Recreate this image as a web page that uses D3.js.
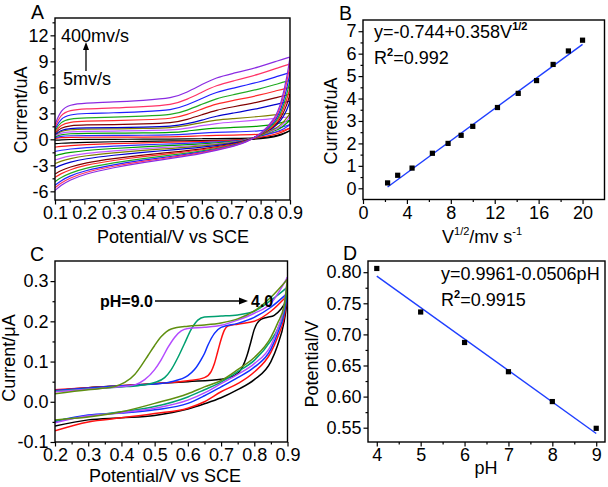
<!DOCTYPE html>
<html><head><meta charset="utf-8">
<script src="https://cdn.jsdelivr.net/npm/d3@7"></script>
<style>
body{margin:0;background:#fff}
svg{display:block}
text{font-family:"Liberation Sans",Arial,Helvetica,sans-serif;fill:#000}
</style>
</head><body><svg id="c" width="608" height="487"></svg>
<script>
// ---------------- DATA ----------------
// Panel A: cyclic voltammograms at 13 scan rates (mV/s)
const scanRates = [5,10,20,40,60,80,100,150,200,250,300,350,400];
const cvColors = ["#000000","#ff1a1a","#2b2bff","#00a000","#c257ff","#808000","#0000cc","#800000","#ff2a2a","#22aa22","#1f1fff","#ff3366","#8a2be2"];
const cvUpperE = [0.1,0.12,0.15,0.2,0.3,0.4,0.5,0.55,0.6,0.65,0.7,0.8,0.86,0.9];
const cvUpper = [
  [-0.1,-0.05,-0.02,0.0,0.0,0.02,0.03,0.05,0.07,0.09,0.1,0.15,0.4,1.0],
  [0.1,0.2,0.23,0.24,0.25,0.26,0.28,0.34,0.42,0.46,0.48,0.55,0.8,1.3],
  [0.2,0.36,0.42,0.44,0.45,0.47,0.5,0.6,0.72,0.8,0.84,0.95,1.25,1.7],
  [0.3,0.56,0.65,0.69,0.7,0.74,0.77,0.95,1.17,1.3,1.36,1.5,1.8,2.2],
  [0.4,0.76,0.88,0.93,0.95,1.0,1.05,1.28,1.58,1.84,1.98,2.24,2.47,2.6],
  [0.5,0.96,1.12,1.18,1.2,1.26,1.32,1.59,1.94,2.24,2.37,2.64,2.87,3.0],
  [0.55,1.08,1.26,1.32,1.35,1.42,1.49,1.8,2.21,2.69,2.99,3.6,4.1,4.4],
  [0.7,1.36,1.58,1.67,1.7,1.78,1.87,2.29,2.83,3.39,3.71,4.35,4.88,5.2],
  [0.85,1.7,2.0,2.1,2.15,2.26,2.37,2.86,3.49,4.1,4.44,5.11,5.67,6.0],
  [1.0,2.05,2.37,2.5,2.55,2.68,2.81,3.35,4.05,4.73,5.09,5.82,6.43,6.8],
  [1.2,2.45,2.85,3.0,3.05,3.2,3.36,3.96,4.72,5.46,5.85,6.64,7.3,7.7],
  [1.4,2.9,3.35,3.53,3.6,3.78,3.96,4.61,5.44,6.24,6.68,7.54,8.27,8.7],
  [1.7,3.4,4.0,4.2,4.3,4.5,4.73,5.43,6.33,7.15,7.56,8.39,9.08,9.5]
];
const cvLowerE = [0.1,0.12,0.15,0.2,0.3,0.4,0.5,0.6,0.7,0.75,0.8,0.85,0.87,0.89,0.9];
const cvLower = [
  [-0.5,-0.45,-0.4,-0.34,-0.28,-0.23,-0.19,-0.14,-0.08,-0.03,0.05,0.3,0.5,0.8,1.0],
  [-0.9,-0.81,-0.72,-0.61,-0.5,-0.41,-0.33,-0.25,-0.14,-0.05,0.25,0.55,0.8,1.1,1.3],
  [-1.4,-1.26,-1.12,-0.95,-0.77,-0.63,-0.52,-0.39,-0.21,-0.08,0.4,0.8,1.05,1.45,1.7],
  [-1.9,-1.71,-1.52,-1.29,-1.05,-0.86,-0.7,-0.53,-0.29,-0.11,0.45,1.0,1.3,1.9,2.2],
  [-2.4,-2.16,-1.92,-1.63,-1.32,-1.08,-0.89,-0.67,-0.36,-0.14,0.5,1.1,1.5,2.2,2.6],
  [-2.8,-2.52,-2.24,-1.9,-1.54,-1.26,-1.04,-0.78,-0.42,-0.17,0.5,1.2,1.7,2.5,3.0],
  [-3.3,-2.97,-2.64,-2.24,-1.82,-1.49,-1.22,-0.92,-0.5,-0.2,0.55,1.4,2.2,3.4,4.4],
  [-4.0,-3.6,-3.2,-2.72,-2.2,-1.8,-1.48,-1.12,-0.6,-0.24,0.55,1.5,2.5,4.0,5.2],
  [-4.4,-3.96,-3.52,-2.99,-2.42,-1.98,-1.63,-1.23,-0.66,-0.26,0.55,1.6,2.8,4.6,6.0],
  [-4.9,-4.41,-3.92,-3.33,-2.7,-2.2,-1.81,-1.37,-0.74,-0.29,0.55,1.8,3.1,5.2,6.8],
  [-5.3,-4.77,-4.24,-3.6,-2.92,-2.39,-1.96,-1.48,-0.8,-0.32,0.55,2.0,3.5,5.9,7.7],
  [-5.6,-5.04,-4.48,-3.81,-3.08,-2.52,-2.07,-1.57,-0.84,-0.34,0.55,2.2,3.9,6.6,8.7],
  [-5.9,-5.31,-4.72,-4.01,-3.25,-2.66,-2.18,-1.65,-0.89,-0.35,0.55,2.4,4.2,7.2,9.5]
];
const aXTicks = [0.1,0.2,0.3,0.4,0.5,0.6,0.7,0.8,0.9];
const aXMinor = [0.15,0.25,0.35,0.45,0.55,0.65,0.75,0.85];
const aYTicks = [-6,-3,0,3,6,9,12];
const aYMinor = [-4.5,-1.5,1.5,4.5,7.5,10.5,13.5];

// Panel B: peak current vs square root of scan rate
const sqrtV = [2.24,3.16,4.47,6.32,7.75,8.94,10.0,12.25,14.14,15.81,17.32,18.71,20.0];
const peakI = [0.24,0.58,0.9,1.56,2.0,2.36,2.76,3.6,4.23,4.8,5.52,6.12,6.6];
const bFitX = [2.24,20.0];
const bFitY = [0.058,6.416];
const bXTicks = [0,4,8,12,16,20];
const bXMinor = [2,6,10,14,18];
const bYTicks = [0,1,2,3,4,5,6,7];
const bYMinor = [0.5,1.5,2.5,3.5,4.5,5.5,6.5];

// Panel C: CVs at different pH
const cLabels = ["4.0","5.0","6.0","7.0","8.0","9.0"];
const cColors = ["#000000","#ff1010","#1030ff","#00a070","#b44cff","#5f8f10"];
const cUpperE = [
  [0.2,0.3,0.4,0.5,0.6,0.7,0.74,0.76,0.78,0.79,0.8,0.82,0.84,0.86,0.88,0.9],
  [0.2,0.3,0.4,0.5,0.6,0.65,0.67,0.68,0.69,0.7,0.71,0.72,0.75,0.8,0.85,0.9],
  [0.2,0.3,0.4,0.5,0.55,0.6,0.62,0.64,0.65,0.66,0.68,0.7,0.75,0.8,0.85,0.9],
  [0.2,0.3,0.4,0.45,0.5,0.53,0.55,0.57,0.59,0.61,0.63,0.65,0.7,0.75,0.8,0.85,0.9],
  [0.2,0.3,0.4,0.44,0.47,0.5,0.52,0.54,0.56,0.58,0.6,0.65,0.7,0.75,0.8,0.85,0.9],
  [0.2,0.3,0.35,0.38,0.41,0.44,0.46,0.48,0.5,0.52,0.55,0.6,0.65,0.7,0.75,0.8,0.85,0.9]
];
const cUpperI = [
  [0.028,0.035,0.04,0.045,0.05,0.056,0.065,0.08,0.12,0.15,0.18,0.205,0.21,0.215,0.23,0.255],
  [0.03,0.035,0.04,0.045,0.052,0.06,0.075,0.095,0.125,0.155,0.178,0.188,0.193,0.2,0.225,0.265],
  [0.028,0.034,0.04,0.044,0.05,0.065,0.08,0.105,0.12,0.14,0.17,0.185,0.195,0.21,0.235,0.27],
  [0.026,0.032,0.037,0.04,0.048,0.06,0.08,0.11,0.145,0.18,0.203,0.211,0.213,0.216,0.225,0.252,0.285],
  [0.025,0.031,0.038,0.042,0.055,0.08,0.105,0.135,0.16,0.176,0.182,0.185,0.19,0.203,0.22,0.245,0.31],
  [0.02,0.03,0.034,0.038,0.048,0.068,0.09,0.115,0.14,0.162,0.181,0.188,0.191,0.196,0.206,0.226,0.26,0.305]
];
const cLowerE = [0.2,0.3,0.4,0.5,0.6,0.65,0.7,0.75,0.8,0.85,0.87,0.89,0.9];
const cLowerI = [
  [-0.06,-0.045,-0.04,-0.034,-0.018,-0.005,0.01,0.03,0.055,0.1,0.14,0.2,0.255],
  [-0.072,-0.05,-0.04,-0.029,-0.016,0.0,0.025,0.045,0.074,0.123,0.16,0.21,0.265],
  [-0.049,-0.033,-0.028,-0.02,-0.004,0.015,0.037,0.06,0.086,0.131,0.17,0.22,0.27],
  [-0.047,-0.036,-0.025,-0.012,0.012,0.03,0.049,0.075,0.103,0.152,0.18,0.23,0.285],
  [-0.052,-0.035,-0.027,-0.016,0.004,0.022,0.045,0.068,0.095,0.14,0.18,0.24,0.31],
  [-0.045,-0.038,-0.025,-0.004,0.02,0.037,0.053,0.08,0.11,0.16,0.195,0.24,0.305]
];
const cXTicks = [0.2,0.3,0.4,0.5,0.6,0.7,0.8,0.9];
const cXMinor = [0.25,0.35,0.45,0.55,0.65,0.75,0.85];
const cYTicks = [-0.1,0.0,0.1,0.2,0.3];
const cYMinor = [-0.05,0.05,0.15,0.25];

// Panel D: potential vs pH
const pHs = [4,5,6,7,8,9];
const potentials = [0.806,0.736,0.687,0.640,0.592,0.549];
const dFitX = [4,9];
const dFitY = [0.7937,0.5407];
const dXTicks = [4,5,6,7,8,9];
const dXMinor = [4.5,5.5,6.5,7.5,8.5];
const dYTicks = [0.55,0.60,0.65,0.70,0.75,0.80];
const dYMinor = [0.575,0.625,0.675,0.725,0.775];

// ---------------- DRAW ----------------
const svg = d3.select("#c");
const FS = 18;

function makeScales(box, xd, yd){
  return {
    x: d3.scaleLinear().domain(xd).range([box.l, box.r]),
    y: d3.scaleLinear().domain(yd).range([box.b, box.t])
  };
}
function drawAxes(box, s, xMaj, xMin, yMaj, yMin, xFmt, yFmt){
  const g = svg.append("g");
  const clean = sel => { sel.select(".domain").remove(); sel.attr("font-size",null).attr("font-family",null); };
  g.append("g").attr("transform",`translate(0,${box.b})`)
    .call(d3.axisBottom(s.x).tickValues(xMin).tickSize(2.5).tickFormat("")).call(clean);
  g.append("g").attr("transform",`translate(0,${box.b})`)
    .call(d3.axisBottom(s.x).tickValues(xMaj).tickSize(4.5).tickPadding(2).tickFormat(xFmt)).call(clean);
  g.append("g").attr("transform",`translate(${box.l},0)`)
    .call(d3.axisLeft(s.y).tickValues(yMin).tickSize(2.5).tickFormat("")).call(clean);
  g.append("g").attr("transform",`translate(${box.l},0)`)
    .call(d3.axisLeft(s.y).tickValues(yMaj).tickSize(4.5).tickPadding(2).tickFormat(yFmt)).call(clean);
  g.selectAll("line").attr("stroke","#000").attr("stroke-width",1.2);
  g.selectAll("text").attr("font-size",FS).attr("fill","#000");
  svg.append("rect").attr("x",box.l).attr("y",box.t).attr("width",box.r-box.l).attr("height",box.b-box.t)
    .attr("fill","none").attr("stroke","#000").attr("stroke-width",1.4);
}
function clip(id, box){
  svg.append("clipPath").attr("id",id).append("rect")
    .attr("x",box.l).attr("y",box.t).attr("width",box.r-box.l).attr("height",box.b-box.t);
  return svg.append("g").attr("clip-path",`url(#${id})`);
}
function txt(x,y,str,opts={}){
  const t = svg.append("text").attr("x",x).attr("y",y).attr("font-size",opts.fs||FS).text(str);
  if(opts.anchor) t.attr("text-anchor",opts.anchor);
  if(opts.bold) t.attr("font-weight","bold");
  return t;
}
function ylabel(x,cy,str,fs){
  return svg.append("text").attr("transform",`translate(${x},${cy}) rotate(-90)`)
    .attr("text-anchor","middle").attr("font-size",fs||FS).text(str);
}
const fmtInt = d => String(d);

// ---- Panel A ----
const boxA = {l:55, r:290, t:18, b:200};
const sA = makeScales(boxA, [0.1,0.9], [-7,14]);
const gA = clip("clipA", boxA);
const lineA = d3.line().x(d=>sA.x(d[0])).y(d=>sA.y(d[1])).curve(d3.curveBasis);
scanRates.forEach((r,i)=>{
  const up = cvUpperE.map((e,k)=>[e, cvUpper[i][k]]);
  const lo = cvLowerE.map((e,k)=>[e, cvLower[i][k]]);
  gA.append("path").attr("d",lineA(up)).attr("fill","none").attr("stroke",cvColors[i]).attr("stroke-width",1.2);
  gA.append("path").attr("d",lineA(lo)).attr("fill","none").attr("stroke",cvColors[i]).attr("stroke-width",1.2);
});
drawAxes(boxA, sA, aXTicks, aXMinor, aYTicks, aYMinor, d=>d.toFixed(1), fmtInt);
txt(31,18.5,"A",{fs:19.5});
txt(61,42,"400mv/s");
txt(63,85,"5mv/s");
svg.append("line").attr("x1",86).attr("y1",71).attr("x2",86).attr("y2",48).attr("stroke","#000").attr("stroke-width",1.3);
svg.append("path").attr("d","M86,42 L83,50 L89,50 Z").attr("fill","#000");
ylabel(27,110,"Current/uA");
txt(173,243,"Potential/V vs SCE",{anchor:"middle"});

// ---- Panel B ----
const boxB = {l:363, r:604.5, t:20, b:199.5};
const sB = makeScales(boxB, [0,22], [-0.5,7.5]);
const gB = clip("clipB", boxB);
gB.append("path").attr("d", d3.line()(bFitX.map((v,k)=>[sB.x(v), sB.y(bFitY[k])])))
  .attr("stroke","#1f3fff").attr("stroke-width",1.4).attr("fill","none");
gB.selectAll("rect.pt").data(sqrtV).enter().append("rect")
  .attr("x",(d)=>sB.x(d)-2.6).attr("y",(d,i)=>sB.y(peakI[i])-2.6).attr("width",5.2).attr("height",5.2).attr("fill","#000");
drawAxes(boxB, sB, bXTicks, bXMinor, bYTicks, bYMinor, fmtInt, fmtInt);
txt(339,20,"B",{fs:19.5});
{
  const t = txt(374,38,"y=-0.744+0.358V");
  t.append("tspan").attr("dy",-8).attr("font-size",11).attr("font-weight","bold").text("1/2");
  const r = txt(374,64,"R");
  r.append("tspan").attr("dy",-8).attr("font-size",11).attr("font-weight","bold").text("2");
  r.append("tspan").attr("dy",8).text("=0.992");
}
ylabel(337,121,"Current/uA");
{
  const t = txt(442,243,"V");
  t.append("tspan").attr("dy",-8).attr("font-size",11).text("1/2");
  t.append("tspan").attr("dy",8).text("/mv s");
  t.append("tspan").attr("dy",-8).attr("font-size",11).text("-1");
}

// ---- Panel C ----
const boxC = {l:55, r:287.5, t:261, b:442};
const sC = makeScales(boxC, [0.2,0.9], [-0.1,0.35]);
const gC = clip("clipC", boxC);
const lineC = d3.line().x(d=>sC.x(d[0])).y(d=>sC.y(d[1])).curve(d3.curveMonotoneX);
cLabels.forEach((lab,i)=>{
  const up = cUpperE[i].map((e,k)=>[e, cUpperI[i][k]]);
  const lo = cLowerE.map((e,k)=>[e, cLowerI[i][k]]);
  gC.append("path").attr("d",lineC(up)).attr("fill","none").attr("stroke",cColors[i]).attr("stroke-width",1.5);
  gC.append("path").attr("d",lineC(lo)).attr("fill","none").attr("stroke",cColors[i]).attr("stroke-width",1.5);
});
drawAxes(boxC, sC, cXTicks, cXMinor, cYTicks, cYMinor, d=>d.toFixed(1), d=>d.toFixed(1));
txt(30,260.5,"C",{fs:19.5});
txt(100,307,"pH=9.0",{bold:true,fs:16});
svg.append("line").attr("x1",155).attr("y1",301).attr("x2",241).attr("y2",301).attr("stroke","#000").attr("stroke-width",1.3);
svg.append("path").attr("d","M248,301 L239,297.5 L239,304.5 Z").attr("fill","#000");
txt(251,307,"4.0",{bold:true,fs:16});
ylabel(15,358,"Current/\u03bcA");
txt(165,482,"Potential/V vs SCE",{anchor:"middle"});

// ---- Panel D ----
const boxD = {l:368, r:605, t:261, b:442};
const sD = makeScales(boxD, [3.8,9.2], [0.527,0.818]);
const gD = clip("clipD", boxD);
gD.append("path").attr("d", d3.line()(dFitX.map((v,k)=>[sD.x(v), sD.y(dFitY[k])])))
  .attr("stroke","#1f3fff").attr("stroke-width",1.4).attr("fill","none");
gD.selectAll("rect.pt").data(pHs).enter().append("rect")
  .attr("x",d=>sD.x(d)-2.6).attr("y",(d,i)=>sD.y(potentials[i])-2.6).attr("width",5.2).attr("height",5.2).attr("fill","#000");
drawAxes(boxD, sD, dXTicks, dXMinor, dYTicks, dYMinor, fmtInt, d=>d.toFixed(2));
txt(343,259.5,"D",{fs:19.5});
txt(441,280,"y=0.9961-0.0506pH");
{
  const r = txt(441,306,"R");
  r.append("tspan").attr("dy",-8).attr("font-size",11).attr("font-weight","bold").text("2");
  r.append("tspan").attr("dy",8).text("=0.9915");
}
ylabel(318,364,"Potential/V");
txt(486,474,"pH",{anchor:"middle"});
</script>
</body></html>
